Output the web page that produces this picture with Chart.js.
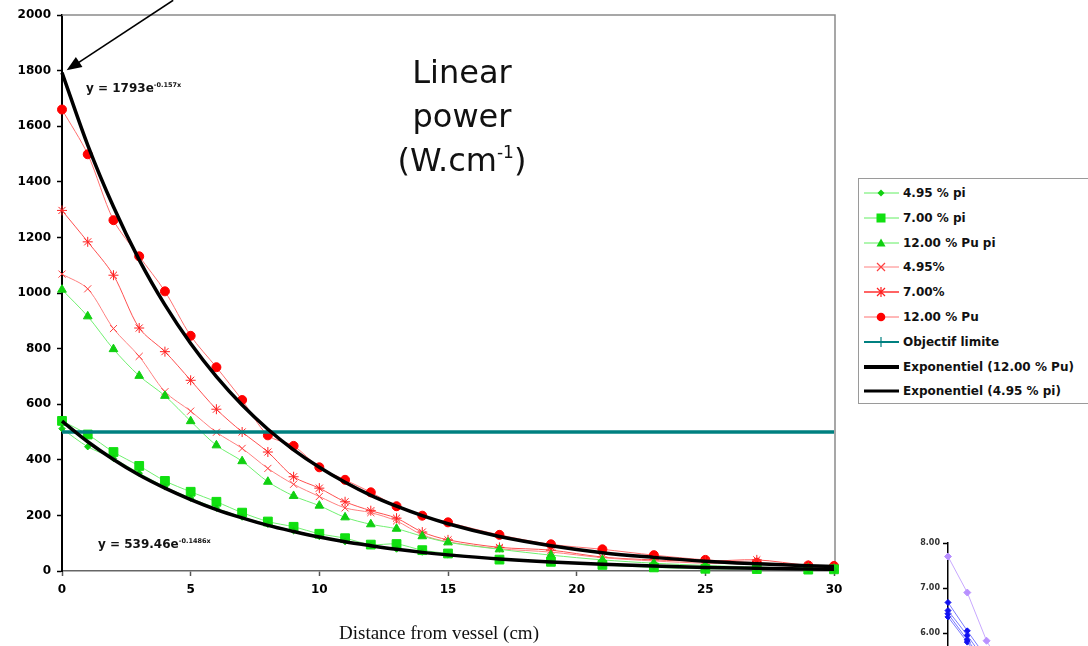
<!DOCTYPE html>
<html><head><meta charset="utf-8">
<script src="https://cdn.jsdelivr.net/npm/chart.js@4/dist/chart.umd.min.js"></script>
<style>
html,body{margin:0;padding:0;background:#fff;}
body{width:1088px;height:646px;overflow:hidden;position:relative;font-family:"DejaVu Sans",sans-serif;}
#main{position:absolute;left:0;top:0;}
#mini{position:absolute;left:905px;top:530px;}
.ttl{position:absolute;left:362px;top:50px;width:200px;text-align:center;font-family:"DejaVu Sans";font-size:32px;line-height:44px;color:#111;}
.ttl sup{font-size:17px;vertical-align:13px;line-height:0;}
.xt{position:absolute;left:289px;top:622px;width:300px;text-align:center;font-family:"Liberation Serif",serif;font-size:19px;line-height:22px;color:#111;}
.eq{position:absolute;font-family:"DejaVu Sans";font-weight:bold;font-size:12px;line-height:14px;color:#111;white-space:nowrap;}
.eq sup{font-size:6.5px;vertical-align:5px;line-height:0;}
#legend{position:absolute;left:858px;top:178px;width:260px;height:224px;border:1px solid #9a9a9a;background:#fff;}
.li{position:absolute;left:5px;height:14px;white-space:nowrap;}
.li svg{position:absolute;left:0;top:0;}
.li span{position:absolute;left:39px;top:0;font-family:"DejaVu Sans";font-weight:bold;font-size:12px;line-height:14px;color:#111;}
</style></head>
<body>
<canvas id="main" width="850" height="646"></canvas>
<canvas id="mini" width="183" height="201"></canvas>
<div class="ttl">Linear<br>power<br>(W.cm<sup>-1</sup>)</div>
<div class="xt">Distance from vessel (cm)</div>
<div class="eq" style="left:86px;top:81px">y = 1793e<sup>-0.157x</sup></div>
<div class="eq" style="left:98px;top:537px">y = 539.46e<sup>-0.1486x</sup></div>
<div id="legend"></div>
<script>
// ---- data ----
const xValues = [0,1,2,3,4,5,6,7,8,9,10,11,12,13,14,15,17,19,21,23,25,27,29,30];
const pi495  = [512,447,405,352,303,262,226,194,168,145,124,106,91,79,68,58,43,32,23,17,12,9,6,5];
const pi700  = [540,491,428,378,324,285,249,210,178,159,134,118,95,97,75,63,41,33,22,13,8,7,5,6];
const piPu12 = [1012,916,798,702,630,539,452,395,321,270,235,193,168,152,125,103,78,57,40,28,20,14,10,8];
const r495   = [1068,1015,872,772,645,575,499,441,369,312,268,227,210,180,130,105,80,68,48,36,28,25,15,12];
const r700   = [1297,1184,1064,874,789,686,582,500,428,339,298,249,217,190,140,112,85,75,50,40,35,40,20,15];
const pu12   = [1660,1499,1262,1132,1006,846,733,615,488,450,373,328,283,233,199,175,130,96,78,57,40,30,20,18];
const limitX = [0,30];
const limitY = [500,500];
const expPu12  = [1793,1532,1310,1119,957,818,699,597,510,436,373,319,272,233,199,170,124,91,66,49,35,26,19,16];
const expPi495 = [539,465,401,345,298,257,221,191,164,142,122,105,91,78,67,58,43,32,24,18,13,10,7,6];
const seriesNames = ["4.95 % pi","7.00 % pi","12.00 % Pu pi","4.95%","7.00%","12.00 % Pu","Objectif limite","Exponentiel (12.00 % Pu)","Exponentiel (4.95 % pi)"];
const yTicksMax = 2000, yStep = 200, xTicksMax = 30, xStep = 5;
// annotation arrow (data coordinates)
const ARROW_FROM = [4.32, 2053];
const ARROW_TO = [0.18, 1801];
// small partial chart at bottom right
const miniX = [0,1,2,3];
const miniPurple = [7.70,6.90,5.83,5.10];
const miniBlue1 = [6.68,6.05,5.45,4.90];
const miniBlue2 = [6.50,5.95,5.35,4.80];
const miniBlue3 = [6.43,5.85,5.30,4.75];
const miniBlue4 = [6.36,5.80,5.25,4.70];
const miniTicks = [6,7,8];

const pts = (xs, ys) => ys.map((v,i)=>({x:xs[i], y:v}));

function ds(label, ys, o){
  return Object.assign({label, data: pts(xValues, ys), showLine:true, clip:false, tension:0.3,
    borderWidth:1, pointBorderWidth:1, order:0}, o);
}

const datasets = [
  ds(seriesNames[0], pi495, {borderColor:'#70f070', pointStyle:'rectRot', pointRadius:3.2, pointBackgroundColor:'#10d010', pointBorderColor:'#10d010'}),
  ds(seriesNames[1], pi700, {borderColor:'#70f070', pointStyle:'rect', pointRadius:6.2, pointBackgroundColor:'#10e010', pointBorderColor:'#10e010'}),
  ds(seriesNames[2], piPu12, {borderColor:'#70f070', pointStyle:'triangle', pointRadius:5, pointBackgroundColor:'#10d010', pointBorderColor:'#10d010'}),
  ds(seriesNames[3], r495, {borderColor:'#ff8080', pointStyle:'crossRot', pointRadius:5, pointBorderColor:'#ff4040', pointBackgroundColor:'#ff4040'}),
  ds(seriesNames[4], r700, {borderColor:'#ff5050', pointStyle:'star', pointRadius:5, pointBorderColor:'#ff2020', pointBackgroundColor:'#ff2020'}),
  ds(seriesNames[5], pu12, {borderColor:'#ff7070', pointStyle:'circle', pointRadius:4.5, pointBackgroundColor:'#ff0000', pointBorderColor:'#ff0000'}),
  {label:seriesNames[6], data: pts(limitX, limitY), showLine:true, clip:false, borderColor:'#008080', borderWidth:3.5, pointRadius:0, order:-1},
  ds(seriesNames[7], expPu12, {borderColor:'#000', borderWidth:3.5, pointRadius:0, cubicInterpolationMode:'monotone', order:-2}),
  ds(seriesNames[8], expPi495, {borderColor:'#000', borderWidth:3.5, pointRadius:0, cubicInterpolationMode:'monotone', order:-2}),
];

const framePlugin = {
  id:'frame',
  beforeDatasetsDraw(chart){
    const {ctx, chartArea:a} = chart;
    ctx.save(); ctx.strokeStyle='#8a8a8a'; ctx.lineWidth=1.5;
    ctx.beginPath(); ctx.moveTo(a.left,a.top); ctx.lineTo(a.right+1,a.top); ctx.lineTo(a.right+1,a.bottom); ctx.stroke();
    ctx.restore();
  },
  afterDatasetsDraw(chart){
    const x=chart.scales.x, y=chart.scales.y, ctx=chart.ctx;
    const x0=x.getPixelForValue(ARROW_FROM[0]), y0=y.getPixelForValue(ARROW_FROM[1]);
    const x1=x.getPixelForValue(ARROW_TO[0]), y1=y.getPixelForValue(ARROW_TO[1]);
    const ang=Math.atan2(y1-y0,x1-x0), L=15, W=6;
    const c=Math.cos(ang), s=Math.sin(ang);
    ctx.save(); ctx.strokeStyle='#000'; ctx.lineWidth=1.6;
    ctx.beginPath(); ctx.moveTo(x0,y0); ctx.lineTo(x1-L*c*0.7, y1-L*s*0.7); ctx.stroke();
    ctx.beginPath(); ctx.moveTo(x1,y1);
    ctx.lineTo(x1-L*c+W*s, y1-L*s-W*c);
    ctx.lineTo(x1-L*c-W*s, y1-L*s+W*c);
    ctx.closePath(); ctx.fillStyle='#000'; ctx.fill(); ctx.restore();
  }
};

const tickFont = {family:'DejaVu Sans', weight:'bold', size:12};
new Chart(document.getElementById('main'), {
  type:'scatter',
  data:{datasets},
  options:{
    responsive:false, animation:false, devicePixelRatio:1,
    layout:{padding:{top:15,right:16,bottom:0,left:0}},
    plugins:{legend:{display:false}, tooltip:{enabled:false}},
    scales:{
      x:{type:'linear', min:0, max:xTicksMax,
        ticks:{stepSize:xStep, font:tickFont, color:'#000', padding:7, callback:v=>String(v)},
        grid:{drawOnChartArea:false, tickLength:5, tickColor:'#555', tickWidth:1.5},
        border:{color:'#666', width:1.5},
        afterFit(s){ s.height = 75; }},
      y:{type:'linear', min:0, max:yTicksMax,
        ticks:{stepSize:yStep, font:tickFont, color:'#000', padding:6, callback:v=>String(v)},
        grid:{drawOnChartArea:false, tickLength:5, tickColor:'#000', tickWidth:1.5},
        border:{color:'#000', width:2},
        afterFit(s){ s.width = 62; }}
    }
  },
  plugins:[framePlugin]
});

// legend (HTML)
const legendStyles = [
  {line:'#60ee60', lw:1, m:'diamond', c:'#10d010'},
  {line:'#60ee60', lw:1, m:'square', c:'#10e010'},
  {line:'#60ee60', lw:1, m:'triangle', c:'#10d010'},
  {line:'#ff8080', lw:1, m:'x', c:'#ff4040'},
  {line:'#ff3030', lw:1.3, m:'star', c:'#ff2020'},
  {line:'#ff7070', lw:1, m:'circle', c:'#ff0000'},
  {line:'#008080', lw:2.2, m:'plus', c:'#008080'},
  {line:'#000', lw:4, m:'none', c:'#000'},
  {line:'#000', lw:3, m:'none', c:'#000'}
];
function markerSvg(m,c){
  const cx=17, cy=7;
  switch(m){
    case 'diamond': return `<polygon points="${cx},${cy-3.5} ${cx+3.5},${cy} ${cx},${cy+3.5} ${cx-3.5},${cy}" fill="${c}"/>`;
    case 'square': return `<rect x="${cx-4.5}" y="${cy-4.5}" width="9" height="9" fill="${c}"/>`;
    case 'triangle': return `<polygon points="${cx},${cy-4.5} ${cx+4.5},${cy+3.5} ${cx-4.5},${cy+3.5}" fill="${c}"/>`;
    case 'x': return `<path d="M${cx-4} ${cy-4}L${cx+4} ${cy+4}M${cx+4} ${cy-4}L${cx-4} ${cy+4}" stroke="${c}" stroke-width="1.2"/>`;
    case 'star': return `<path d="M${cx-4} ${cy-4}L${cx+4} ${cy+4}M${cx+4} ${cy-4}L${cx-4} ${cy+4}M${cx} ${cy-5}L${cx} ${cy+5}" stroke="${c}" stroke-width="1.2"/>`;
    case 'circle': return `<circle cx="${cx}" cy="${cy}" r="4.3" fill="${c}"/>`;
    case 'plus': return `<path d="M${cx} ${cy-5}L${cx} ${cy+5}" stroke="${c}" stroke-width="1.2"/>`;
    default: return '';
  }
}
const leg = document.getElementById('legend');
seriesNames.forEach((name,i)=>{
  const st = legendStyles[i];
  const d = document.createElement('div');
  d.className='li';
  d.style.top = (7 + i*24.8) + 'px';
  d.innerHTML = `<svg width="36" height="14"><line x1="0" y1="7" x2="35" y2="7" stroke="${st.line}" stroke-width="${st.lw}"/>${markerSvg(st.m,st.c)}</svg><span>${name}</span>`;
  leg.appendChild(d);
});

// small partial chart (bottom right)
function mds(ys, line, mc, r){
  return {data: pts(miniX, ys), showLine:true, clip:false, borderColor:line, borderWidth:1, pointStyle:'rectRot', pointRadius:r, pointBackgroundColor:mc, pointBorderColor:mc};
}
new Chart(document.getElementById('mini'), {
  type:'scatter',
  data:{datasets:[
    mds(miniPurple,'#c8a8ff','#b890ff',3.5),
    mds(miniBlue1,'#7878ff','#1010f0',3),
    mds(miniBlue2,'#7878ff','#1010f0',3),
    mds(miniBlue3,'#7878ff','#1010f0',3),
    mds(miniBlue4,'#7878ff','#1010f0',3)
  ]},
  options:{
    responsive:false, animation:false, devicePixelRatio:1,
    layout:{padding:{top:13,right:0,bottom:0,left:0}},
    plugins:{legend:{display:false}, tooltip:{enabled:false}},
    scales:{
      x:{type:'linear', min:0, max:7, display:false},
      y:{type:'linear', min:4, max:8,
        afterBuildTicks(s){ s.ticks = miniTicks.map(v=>({value:v})); },
        ticks:{font:{family:'DejaVu Sans', weight:'bold', size:8}, color:'#333', padding:3, callback:v=>Number(v).toFixed(2)},
        grid:{drawOnChartArea:false, tickLength:5, tickColor:'#000', tickWidth:1.5},
        border:{color:'#000', width:1.5},
        afterFit(s){ s.width = 43; }}
    }
  }
});
</script>
</body></html>
